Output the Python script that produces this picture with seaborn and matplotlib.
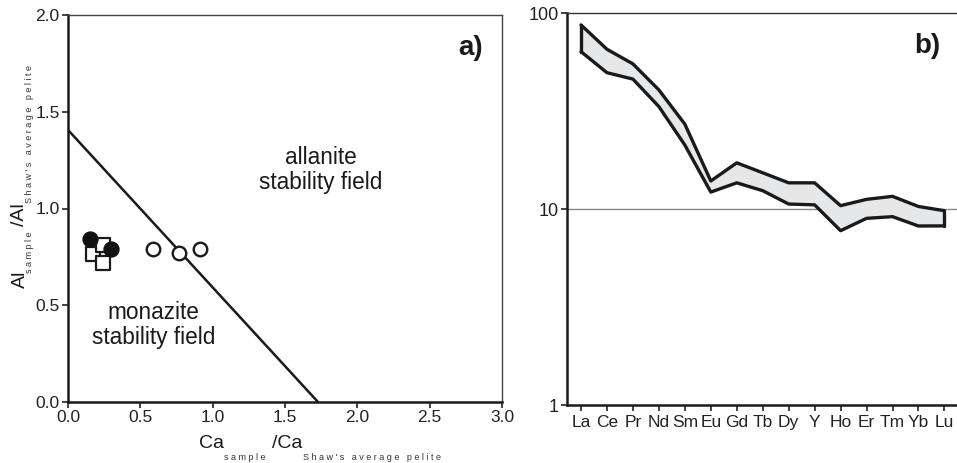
import matplotlib
matplotlib.use("Agg")
import matplotlib.pyplot as plt
import seaborn as sns
import pandas as pd
import numpy as np

# ---- data: panel a ----
filled_x = [0.154, 0.30]
filled_y = [0.842, 0.79]
square_x = [0.173, 0.242, 0.242]
square_y = [0.766, 0.812, 0.718]
open_x = [0.588, 0.765, 0.912]
open_y = [0.79, 0.769, 0.79]
boundary_x = [0.0, 1.728]
boundary_y = [1.406, 0.0]

# ---- data: panel b ----
elements = ["La", "Ce", "Pr", "Nd", "Sm", "Eu", "Gd", "Tb", "Dy", "Y",
            "Ho", "Er", "Tm", "Yb", "Lu"]
upper = [86.9, 65.3, 55.0, 40.5, 27.1, 13.9, 17.2, 15.3, 13.6, 13.6,
         10.4, 11.2, 11.6, 10.3, 9.8]
lower = [63.5, 49.6, 46.0, 33.3, 21.2, 12.2, 13.6, 12.4, 10.6, 10.5,
         7.75, 8.96, 9.14, 8.19, 8.2]

sns.set_style("ticks")
plt.rcParams['font.family'] = ['Liberation Sans', 'DejaVu Sans']

W, H = 957, 463
fig = plt.figure(figsize=(W / 100, H / 100), dpi=100)

def px_ax(l, t, r, b):
    return fig.add_axes([l / W, 1 - b / H, (r - l) / W, (b - t) / H])

# ---------- panel a ----------
ax1 = px_ax(68, 15, 502, 402)
sns.lineplot(x=boundary_x, y=boundary_y, ax=ax1, color="#1a1a1a", lw=1.8)
sns.scatterplot(x=square_x, y=square_y, ax=ax1, marker="s", s=100,
                facecolor="white", edgecolor="#1a1a1a", linewidth=1.6, zorder=3)
sns.scatterplot(x=filled_x, y=filled_y, ax=ax1, marker="o", s=115,
                color="#111111", edgecolor="#111111", linewidth=1.0, zorder=4)
sns.scatterplot(x=open_x, y=open_y, ax=ax1, marker="o", s=95,
                facecolor="white", edgecolor="#1a1a1a", linewidth=1.7, zorder=4)
ax1.set_xlim(0, 3.0)
ax1.set_ylim(0, 2.0)
ax1.set_xticks([0, 0.5, 1.0, 1.5, 2.0, 2.5, 3.0])
ax1.set_yticks([0, 0.5, 1.0, 1.5, 2.0])
ax1.xaxis.set_major_formatter(matplotlib.ticker.FormatStrFormatter("%.1f"))
ax1.yaxis.set_major_formatter(matplotlib.ticker.FormatStrFormatter("%.1f"))
ax1.tick_params(labelsize=12.5, length=4, width=1.2, colors="#222222", pad=2)
for s in ["left", "bottom"]:
    ax1.spines[s].set_linewidth(1.8)
    ax1.spines[s].set_color("#1a1a1a")
for s in ["top", "right"]:
    ax1.spines[s].set_visible(True)
    ax1.spines[s].set_linewidth(1.0)
    ax1.spines[s].set_color("#444444")
ax1.text(1.75, 1.2, "allanite\nstability field", ha="center", va="center",
         fontsize=16.3, color="#1a1a1a", linespacing=1.1)
ax1.text(0.59, 0.398, "monazite\nstability field", ha="center", va="center",
         fontsize=16.3, color="#1a1a1a", linespacing=1.1)
ax1.text(2.78, 1.83, "a)", ha="center", va="center", fontsize=20,
         fontweight="bold", color="#1a1a1a")

def ft(x, y, s, **kw):
    fig.text(x / W, 1 - y / H, s, **kw)

# axis labels panel a
ft(212, 444, "Ca", ha="center", va="center", fontsize=14, color="#1a1a1a")
ft(287, 444, "/Ca", ha="center", va="center", fontsize=14, color="#1a1a1a")
ft(245, 457, "s a m p l e", ha="center", va="center", fontsize=6.5, color="#333333")
ft(372, 457, "S h a w ' s   a v e r a g e   p e l i t e", ha="center", va="center",
   fontsize=6.5, color="#333333")
ft(20, 279, "Al", ha="center", va="center", fontsize=14, rotation=90, color="#1a1a1a")
ft(20, 215, "/Al", ha="center", va="center", fontsize=14, rotation=90, color="#1a1a1a")
ft(30, 252, "s a m p l e", ha="center", va="center", fontsize=6.5, rotation=90, color="#333333")
ft(30, 134, "S h a w ' s   a v e r a g e   p e l i t e", ha="center", va="center",
   fontsize=6.5, rotation=90, color="#333333")

# ---------- panel b ----------
ax2 = px_ax(567, 13, 960, 405)
df = pd.DataFrame({"pos": np.arange(len(elements)), "element": elements,
                   "upper": upper, "lower": lower})
ax2.axhline(10, color="#888888", lw=1.0, zorder=1)
ax2.fill_between(df["pos"], df["lower"], df["upper"], color="#e6e7e8", zorder=2, lw=0)
sns.lineplot(data=df, x="pos", y="upper", ax=ax2, color="#1a1a1a", lw=2.4, zorder=3)
sns.lineplot(data=df, x="pos", y="lower", ax=ax2, color="#1a1a1a", lw=2.4, zorder=3)
for i in [0, len(elements) - 1]:
    ax2.plot([df["pos"][i]] * 2, [df["lower"][i], df["upper"][i]],
             color="#1a1a1a", lw=2.4, zorder=3, solid_capstyle="round")
ax2.set_yscale("log")
ax2.set_ylim(1, 100)
ax2.set_xlim(-0.54, 14.6)
ax2.set_yticks([1, 10, 100])
ax2.set_yticklabels(["1", "10", "100"])
ax2.yaxis.set_minor_locator(matplotlib.ticker.NullLocator())
ax2.set_xticks(df["pos"])
ax2.set_xticklabels(elements)
ax2.set_xlabel("")
ax2.set_ylabel("")
ax2.tick_params(labelsize=13, length=4, width=1.2, colors="#222222", pad=2)
ax2.tick_params(axis="x", labelsize=12.5, pad=3)
for s in ["left", "bottom"]:
    ax2.spines[s].set_linewidth(1.8)
    ax2.spines[s].set_color("#1a1a1a")
ax2.spines["top"].set_visible(True)
ax2.spines["top"].set_linewidth(1.0)
ax2.spines["top"].set_color("#333333")
ax2.spines["right"].set_visible(False)
ax2.text(0.918, 0.916, "b)", transform=ax2.transAxes, ha="center", va="center",
         fontsize=20, fontweight="bold", color="#1a1a1a")

fig.savefig("out.png", dpi=100)
